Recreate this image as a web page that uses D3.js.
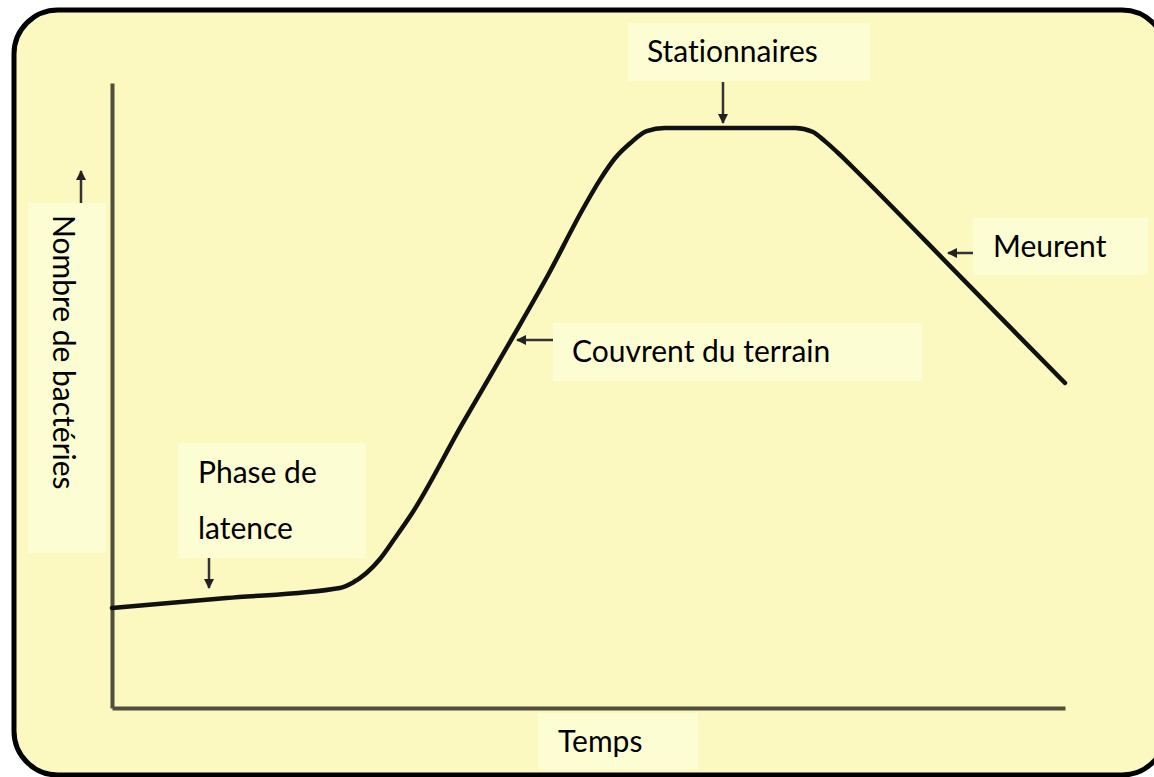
<!DOCTYPE html>
<html><head><meta charset="utf-8">
<script src="https://cdn.jsdelivr.net/npm/d3@7"></script>
<style>body{margin:0;background:#fff;overflow:hidden}</style>
</head><body>
<svg id="c" width="1154" height="777"></svg>
<script>
// Growth curve (time 0..100, count 0..100)
const time  = [0, 12.0, 23.9, 25.2, 26.7, 28.1, 29.7, 31.5, 36.7, 42.0, 45.8, 49.4, 51.2, 52.8, 54.4, 56.1, 58.0, 64.9, 71.7, 73.5, 74.8, 76.4, 78.2, 89.1, 100];
const count = [16.0, 17.6, 19.2, 20.0, 21.6, 23.8, 27.2, 31.2, 45.3, 59.2, 69.4, 79.8, 84.5, 88.0, 90.4, 92.3, 92.8, 92.8, 92.8, 92.2, 90.7, 88.5, 85.8, 68.9, 52.0];
const phaseLabels = ["Stationnaires", "Couvrent du terrain", "Meurent", "Phase de", "latence"];
const xTitle = "Temps";
const yTitle = "Nombre de bactéries";

const svg = d3.select("#c");
const FONT = "Lato, 'Open Sans', sans-serif";
const FS = 30;
const BG = "#fbf8c0", BOX = "#fdfdd3";

const x = d3.scaleLinear().domain([0, 100]).range([112, 1065]);
const y = d3.scaleLinear().domain([0, 100]).range([708, 83]);

const defs = svg.append("defs");
defs.append("marker").attr("id", "ah").attr("viewBox", "0 0 10 10")
  .attr("refX", 9).attr("refY", 5).attr("markerWidth", 4).attr("markerHeight", 4)
  .attr("orient", "auto").append("path").attr("d", "M0,0L10,5L0,10Z").attr("fill", "#222");

// frame
svg.append("rect").attr("x", 14).attr("y", 10).attr("width", 1152).attr("height", 765)
  .attr("rx", 44).attr("fill", BG).attr("stroke", "#000").attr("stroke-width", 5);

// label boxes
const boxes = [[628, 23, 242, 58], [553, 323, 369, 58], [973, 218, 175, 57], [178, 443, 188, 115], [538, 713, 160, 57], [28, 203, 78, 350]];
boxes.forEach(b => svg.append("rect").attr("x", b[0]).attr("y", b[1]).attr("width", b[2]).attr("height", b[3]).attr("fill", BOX));

// axes (no ticks)
const axStyle = g => { g.select(".domain").attr("stroke", "#4f4f3c").attr("stroke-width", 4); g.selectAll(".tick").remove(); };
svg.append("g").attr("transform", `translate(${x.range()[0]},0)`)
  .call(d3.axisLeft(y).tickValues([]).tickSizeOuter(0)).call(axStyle);
svg.append("g").attr("transform", `translate(0,${y.range()[0]})`)
  .call(d3.axisBottom(x).tickValues([]).tickSizeOuter(0)).call(axStyle);

// curve
const pts = time.map((t, i) => [t, count[i]]);
svg.append("path").datum(pts)
  .attr("d", d3.line().x(d => x(d[0])).y(d => y(d[1])).curve(d3.curveMonotoneX))
  .attr("fill", "none").attr("stroke", "#111").attr("stroke-width", 4.5)
  .attr("stroke-linejoin", "round").attr("stroke-linecap", "round");

// arrows
const arrows = [[723, 82, 723, 123], [553, 340, 517, 340], [973, 253, 948, 253], [209, 558, 209, 588], [81, 203, 81, 171]];
arrows.forEach(a => svg.append("line").attr("x1", a[0]).attr("y1", a[1]).attr("x2", a[2]).attr("y2", a[3])
  .attr("stroke", "#333").attr("stroke-width", 2.5).attr("marker-end", "url(#ah)"));

// texts
const txt = (s, tx, ty) => svg.append("text").attr("x", tx).attr("y", ty).text(s)
  .attr("font-family", FONT).attr("font-size", FS).attr("fill", "#000")
  .style("font-variant-ligatures", "none");
txt(phaseLabels[0], 647, 62);
txt(phaseLabels[1], 572, 362);
txt(phaseLabels[2], 993, 257);
txt(phaseLabels[3], 198, 483);
txt(phaseLabels[4], 198, 539);
txt(xTitle, 558, 752);
svg.append("text").attr("transform", "translate(53,215) rotate(90)").text(yTitle)
  .attr("font-family", FONT).attr("font-size", FS).attr("fill", "#000")
  .style("font-variant-ligatures", "none");
</script>
</body></html>
